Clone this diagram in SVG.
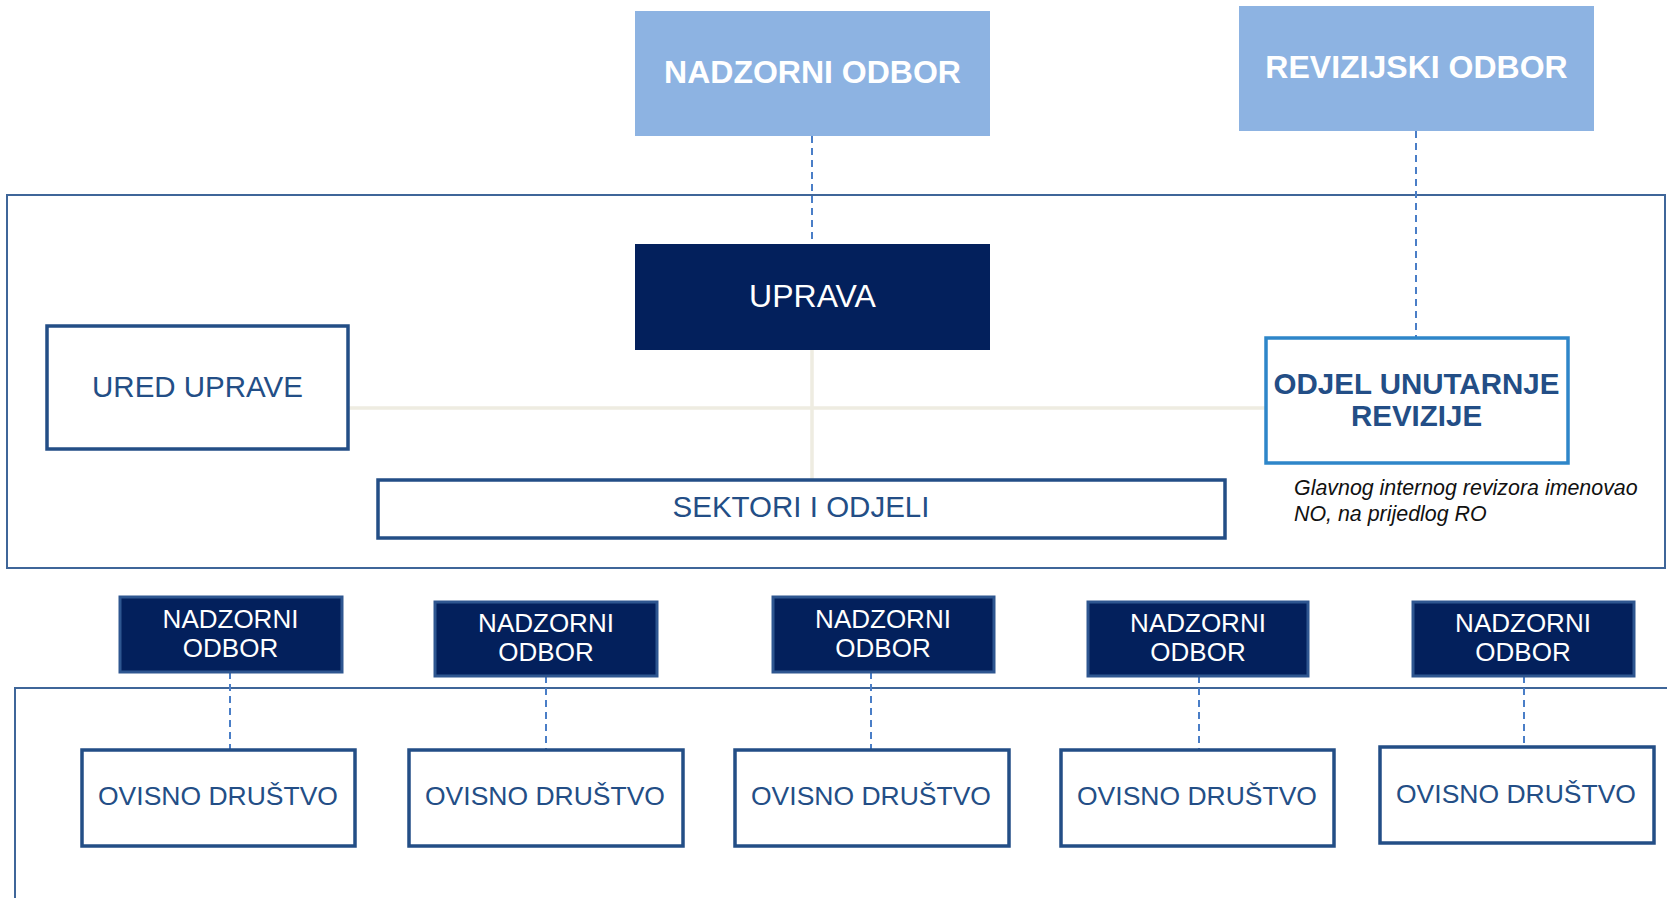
<svg xmlns="http://www.w3.org/2000/svg" width="1667" height="898" viewBox="0 0 1667 898">
<style>
text{font-family:"Liberation Sans",Arial,sans-serif;text-anchor:middle}
.top{fill:#8DB3E2}
.topt{fill:#fff;font-size:32px;font-weight:bold}
.navy{fill:#03205C}
.nob{fill:#03205C;stroke:#2E5690;stroke-width:3}
.wt{fill:#fff;font-size:26px}
.wb{fill:#fff;stroke:#234E86;stroke-width:3.5}
.bt{fill:#234E86;font-size:29.5px}
.ot{fill:#234E86;font-size:26.5px}
.frame{fill:none;stroke:#3F6699;stroke-width:2}
.dash{fill:none;stroke:#4A7EC7;stroke-width:2;stroke-dasharray:7 5}
.beige{fill:none;stroke:#EEECE1;stroke-width:3.5}
</style>
<rect width="1667" height="898" fill="#fff"/>
<g id="frames">
<rect class="frame" x="7" y="195" width="1658" height="373"/>
<path class="frame" d="M1667,688 H15 V898"/>
</g>
<g id="connectors">
<path class="beige" d="M348,408 H1265 M812,350 V479"/>
<path class="dash" d="M812,136 V244"/>
<path class="dash" d="M1416,131 V337"/>
<path class="dash" d="M230,672 V749"/>
<path class="dash" d="M546,676 V749"/>
<path class="dash" d="M871,672 V749"/>
<path class="dash" d="M1199,676 V749"/>
<path class="dash" d="M1524,676 V746"/>
</g>
<g id="nadzorni-odbor">
<rect class="top" x="635" y="11" width="355" height="125"/>
<text class="topt" x="812.5" y="83">NADZORNI ODBOR</text>
</g>
<g id="revizijski-odbor">
<rect class="top" x="1239" y="6" width="355" height="125"/>
<text class="topt" x="1416.5" y="78">REVIZIJSKI ODBOR</text>
</g>
<g id="uprava">
<rect class="navy" x="635" y="244" width="355" height="106"/>
<text x="812.5" y="307" fill="#fff" font-size="32">UPRAVA</text>
</g>
<g id="ured-uprave">
<rect class="wb" x="47" y="326" width="301" height="123"/>
<text class="bt" x="197.5" y="397">URED UPRAVE</text>
</g>
<g id="sektori">
<rect class="wb" x="378" y="480" width="847" height="58"/>
<text class="bt" x="801" y="517">SEKTORI I ODJELI</text>
</g>
<g id="odjel-revizije">
<rect x="1266" y="338" width="302" height="125" fill="#fff" stroke="#2E86C9" stroke-width="3.5"/>
<text class="bt" x="1416.5" y="394" font-weight="bold">ODJEL UNUTARNJE</text>
<text class="bt" x="1416.5" y="426" font-weight="bold">REVIZIJE</text>
</g>
<g id="napomena">
<text x="1294" y="495" font-size="21.4" font-style="italic" fill="#111" style="text-anchor:start">Glavnog internog revizora imenovao</text>
<text x="1294" y="521" font-size="21.4" font-style="italic" fill="#111" style="text-anchor:start">NO, na prijedlog RO</text>
</g>
<g id="no-1">
<rect class="nob" x="120" y="597" width="222" height="75"/>
<text class="wt" x="230.5" y="628">NADZORNI</text>
<text class="wt" x="230.5" y="657">ODBOR</text>
</g>
<g id="no-2">
<rect class="nob" x="435" y="602" width="222" height="74"/>
<text class="wt" x="546" y="632">NADZORNI</text>
<text class="wt" x="546" y="661">ODBOR</text>
</g>
<g id="no-3">
<rect class="nob" x="773" y="597" width="221" height="75"/>
<text class="wt" x="883" y="628">NADZORNI</text>
<text class="wt" x="883" y="657">ODBOR</text>
</g>
<g id="no-4">
<rect class="nob" x="1088" y="602" width="220" height="74"/>
<text class="wt" x="1198" y="632">NADZORNI</text>
<text class="wt" x="1198" y="661">ODBOR</text>
</g>
<g id="no-5">
<rect class="nob" x="1413" y="602" width="221" height="74"/>
<text class="wt" x="1523" y="632">NADZORNI</text>
<text class="wt" x="1523" y="661">ODBOR</text>
</g>
<g id="od-1">
<rect class="wb" x="82" y="750" width="273" height="96"/>
<text class="ot" x="218" y="805">OVISNO DRUŠTVO</text>
</g>
<g id="od-2">
<rect class="wb" x="409" y="750" width="274" height="96"/>
<text class="ot" x="545" y="805">OVISNO DRUŠTVO</text>
</g>
<g id="od-3">
<rect class="wb" x="735" y="750" width="274" height="96"/>
<text class="ot" x="871" y="805">OVISNO DRUŠTVO</text>
</g>
<g id="od-4">
<rect class="wb" x="1061" y="750" width="273" height="96"/>
<text class="ot" x="1197" y="805">OVISNO DRUŠTVO</text>
</g>
<g id="od-5">
<rect class="wb" x="1380" y="747" width="274" height="96"/>
<text class="ot" x="1516" y="803">OVISNO DRUŠTVO</text>
</g>
</svg>
